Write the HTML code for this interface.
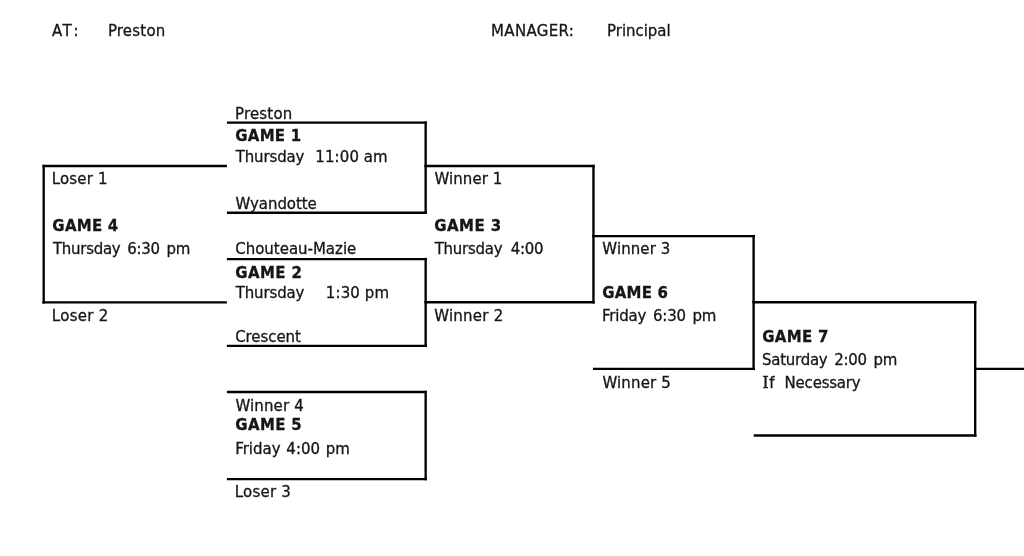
<!DOCTYPE html>
<html lang="en">
<head>
<meta charset="utf-8">
<title>Tournament Bracket</title>
<style>
html,body{margin:0;padding:0;background:#fff;}
body{width:1024px;height:556px;overflow:hidden;position:relative;}
svg{position:absolute;left:0;top:0;display:block;will-change:transform;}
svg line{stroke:#000;stroke-width:2.35;stroke-linecap:butt;}
svg text{font-family:"DejaVu Sans Condensed", "DejaVu Sans", "Liberation Sans", sans-serif;font-size:16.0px;font-stretch:condensed;fill:#161616;stroke:#161616;stroke-width:0.3px;white-space:pre;}
svg text.b{font-weight:bold;}
svg tspan.si{font-family:"DejaVu Serif", "Liberation Serif", serif;font-stretch:normal;}
</style>
</head>
<body>
<svg width="1024" height="556" viewBox="0 0 1024 556">
<g>
<line x1="42.4" y1="166.0" x2="226.9" y2="166.0"/>
<line x1="42.4" y1="302.4" x2="226.9" y2="302.4"/>
<line x1="43.7" y1="164.8" x2="43.7" y2="303.6"/>
<line x1="226.9" y1="122.6" x2="426.9" y2="122.6"/>
<line x1="226.9" y1="212.7" x2="426.9" y2="212.7"/>
<line x1="425.65" y1="121.4" x2="425.65" y2="213.9"/>
<line x1="226.9" y1="259.05" x2="426.9" y2="259.05"/>
<line x1="226.9" y1="345.9" x2="426.9" y2="345.9"/>
<line x1="425.65" y1="257.85" x2="425.65" y2="347.1"/>
<line x1="424.4" y1="166.0" x2="594.75" y2="166.0"/>
<line x1="424.4" y1="302.25" x2="594.75" y2="302.25"/>
<line x1="593.45" y1="164.8" x2="593.45" y2="303.45"/>
<line x1="592.2" y1="236.1" x2="754.9" y2="236.1"/>
<line x1="593.0" y1="368.85" x2="754.9" y2="368.85"/>
<line x1="753.6" y1="234.9" x2="753.6" y2="370.05"/>
<line x1="752.35" y1="302.25" x2="976.45" y2="302.25"/>
<line x1="753.7" y1="435.45" x2="976.45" y2="435.45"/>
<line x1="975.2" y1="301.05" x2="975.2" y2="436.65"/>
<line x1="974.0" y1="368.8" x2="1024" y2="368.8"/>
<line x1="226.9" y1="392.0" x2="426.9" y2="392.0"/>
<line x1="226.9" y1="479.05" x2="426.9" y2="479.05"/>
<line x1="425.65" y1="390.8" x2="425.65" y2="480.25"/>
</g>
<g>
<text transform="scale(1.04,1)" x="50.12 60.10 70.58" y="36">AT:</text>
<text transform="scale(1.04,1)" x="103.77" y="36" style="letter-spacing:0.210px">Preston</text>
<text transform="scale(1.04,1)" x="472.11" y="36" style="letter-spacing:0.367px">MANAGER:</text>
<text transform="scale(1.04,1)" x="583.74" y="36" style="letter-spacing:-0.019px">Principal</text>
<text transform="scale(1.04,1)" x="225.92" y="119" style="letter-spacing:0.218px">Preston</text>
<text transform="scale(1.04,1)" x="226.23" y="141" class="b" style="letter-spacing:0.249px">GAME 1</text>
<text transform="scale(1.04,1)" x="226.63" y="162" style="letter-spacing:-0.109px">Thursday</text>
<text transform="scale(1.04,1)" x="303.17" y="162" style="letter-spacing:0.134px;word-spacing:-0.180px">11:00 am</text>
<text transform="scale(1.04,1)" x="226.48" y="209" style="letter-spacing:-0.036px">Wyandotte</text>
<text transform="scale(1.04,1)" x="49.73" y="184" style="letter-spacing:0.208px">Loser 1</text>
<text transform="scale(1.04,1)" x="50.35" y="231" class="b" style="letter-spacing:0.256px">GAME 4</text>
<text transform="scale(1.04,1)" x="50.94" y="254" style="letter-spacing:-0.261px;word-spacing:2.243px">Thursday 6:30 pm</text>
<text transform="scale(1.04,1)" x="49.82" y="321" style="letter-spacing:0.316px">Loser 2</text>
<text transform="scale(1.04,1)" x="226.15" y="254" style="letter-spacing:0.009px">Chouteau-Mazie</text>
<text transform="scale(1.04,1)" x="226.22" y="278" class="b" style="letter-spacing:0.402px">GAME 2</text>
<text transform="scale(1.04,1)" x="226.63" y="298" style="letter-spacing:-0.109px">Thursday</text>
<text transform="scale(1.04,1)" x="313.30" y="298" style="letter-spacing:0.128px">1:30 pm</text>
<text transform="scale(1.04,1)" x="226.14" y="342" style="letter-spacing:-0.043px">Crescent</text>
<text transform="scale(1.04,1)" x="417.79" y="184" style="letter-spacing:0.089px">Winner 1</text>
<text transform="scale(1.04,1)" x="417.60" y="231" class="b" style="letter-spacing:0.443px">GAME 3</text>
<text transform="scale(1.04,1)" x="418.04" y="254" style="letter-spacing:-0.251px;word-spacing:3.859px">Thursday 4:00</text>
<text transform="scale(1.04,1)" x="417.50" y="321" style="letter-spacing:0.261px">Winner 2</text>
<text transform="scale(1.04,1)" x="579.19" y="254" style="letter-spacing:0.114px">Winner 3</text>
<text transform="scale(1.04,1)" x="579.09" y="298" class="b" style="letter-spacing:0.219px">GAME 6</text>
<text transform="scale(1.04,1)" x="578.90" y="321" style="letter-spacing:-0.159px;word-spacing:1.973px">Friday 6:30 pm</text>
<text transform="scale(1.04,1)" x="579.21" y="388" style="letter-spacing:0.171px">Winner 5</text>
<text transform="scale(1.04,1)" x="732.84" y="342" class="b" style="letter-spacing:0.325px">GAME 7</text>
<text transform="scale(1.04,1)" x="732.66" y="365" style="letter-spacing:-0.223px;word-spacing:2.119px">Saturday 2:00 pm</text>
<text transform="scale(1.04,1)" x="732.86" y="388" style="letter-spacing:0.590px"><tspan class="si">I</tspan>f</text>
<text transform="scale(1.04,1)" x="754.40" y="388" style="letter-spacing:-0.178px">Necessary</text>
<text transform="scale(1.04,1)" x="226.36" y="411" style="letter-spacing:0.159px">Winner 4</text>
<text transform="scale(1.04,1)" x="226.23" y="430" class="b" style="letter-spacing:0.369px">GAME 5</text>
<text transform="scale(1.04,1)" x="226.19" y="454" style="letter-spacing:0.039px;word-spacing:0.834px">Friday 4:00 pm</text>
<text transform="scale(1.04,1)" x="225.78" y="497" style="letter-spacing:0.220px">Loser 3</text>
</g>
</svg>
</body>
</html>
